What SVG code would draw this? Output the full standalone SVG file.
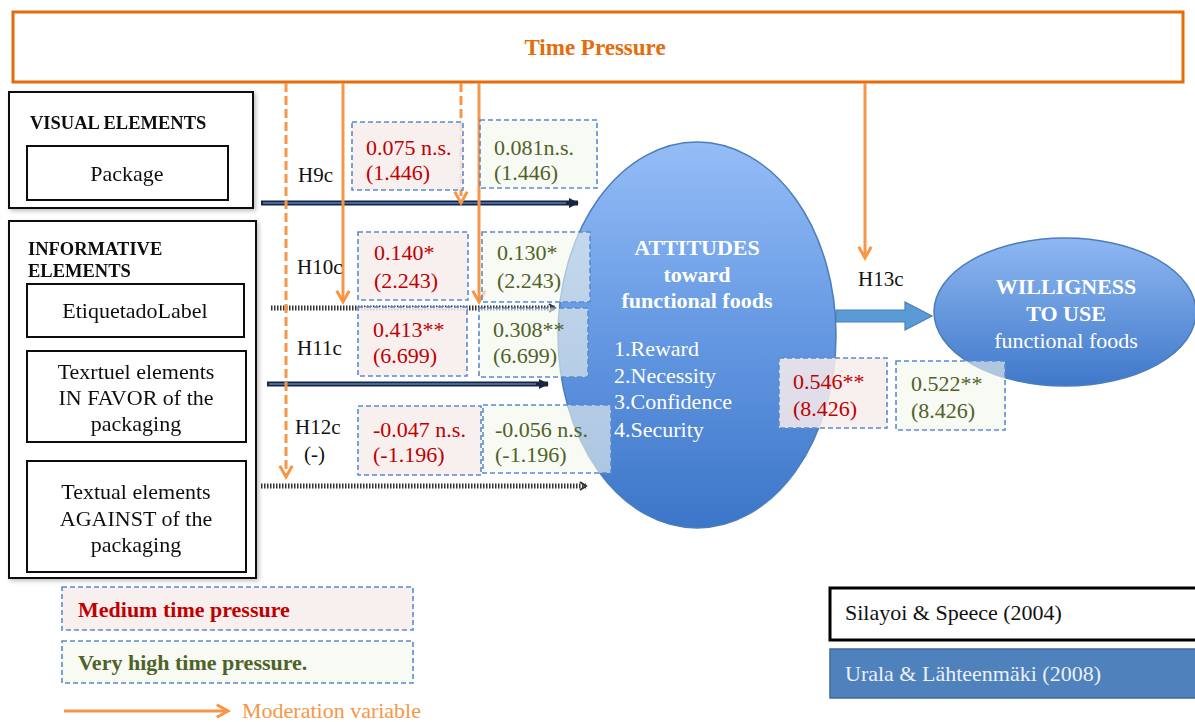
<svg xmlns="http://www.w3.org/2000/svg" width="1195" height="722" viewBox="0 0 1195 722" font-family="'Liberation Serif', 'Times New Roman', serif">
<style>
  text { font-family: "Liberation Serif", "Times New Roman", serif; }
  .box { fill: #ffffff; stroke: #111111; stroke-width: 2; }
  .lbl { font-size: 22px; fill: #111111; text-anchor: middle; }
  .head { font-size: 18.5px; font-weight: bold; fill: #111111; }
  .hyp { font-size: 21px; fill: #111111; }
  .red { fill: #F7ECEC; fill-opacity: 0.85; stroke: #5B8BD0; stroke-width: 1.6; stroke-dasharray: 5 3; }
  .grn { fill: #F4F6EC; fill-opacity: 0.6; stroke: #5B8BD0; stroke-width: 1.6; stroke-dasharray: 5 3; }
  .rt { font-size: 22px; fill: #C00000; }
  .gt { font-size: 22px; fill: #4F6228; }
  .mod { stroke: #F79646; stroke-width: 3; fill: none; }
  .modd { stroke: #F79646; stroke-width: 3; fill: none; stroke-dasharray: 9 4; }
  .solidarr { stroke: #1A2540; stroke-width: 5; fill: none; }
  .solidin { stroke: #4F81BD; stroke-width: 1.6; fill: none; }
  .dotarr { stroke: #333333; stroke-width: 5; fill: none; stroke-dasharray: 1.5 1.5; }
  .wt { fill: #ffffff; font-size: 22px; }
  .wtb { fill: #ffffff; font-size: 22px; font-weight: bold; text-anchor: middle; }
</style>
<defs>
  <marker id="orangeHead" viewBox="0 0 12 12" refX="10" refY="6" markerWidth="15" markerHeight="15" markerUnits="userSpaceOnUse" orient="auto" overflow="visible">
    <path d="M1,1 L10,6 L1,11" fill="none" stroke="#F79646" stroke-width="2.4"/>
  </marker>
  <marker id="darkHead" viewBox="0 0 10 10" refX="9" refY="5" markerWidth="12" markerHeight="10" markerUnits="userSpaceOnUse" orient="auto">
    <path d="M0,0 L10,5 L0,10 Z" fill="#1A2540"/>
  </marker>
  <marker id="dotHead" viewBox="0 0 10 10" refX="8" refY="5" markerWidth="10" markerHeight="10" markerUnits="userSpaceOnUse" orient="auto">
    <path d="M2,1 L8,5 L2,9" fill="none" stroke="#333333" stroke-width="2"/>
  </marker>
  <linearGradient id="blueGrad" x1="0" y1="0" x2="0" y2="1">
    <stop offset="0" stop-color="#95BDF7"/>
    <stop offset="0.5" stop-color="#6498E2"/>
    <stop offset="1" stop-color="#3C76C8"/>
  </linearGradient>
  <linearGradient id="blueGrad2" x1="0" y1="0" x2="0" y2="1">
    <stop offset="0" stop-color="#8FB8F2"/>
    <stop offset="1" stop-color="#3F78C9"/>
  </linearGradient>
  <filter id="shadow" x="-5%" y="-5%" width="115%" height="115%">
    <feDropShadow dx="2" dy="2" stdDeviation="2" flood-color="#000000" flood-opacity="0.25"/>
  </filter>
</defs>

<rect width="1195" height="722" fill="#ffffff"/>

<!-- Moderator -->
<g id="time-pressure">
  <rect x="13" y="12" width="1170" height="70" fill="#ffffff" stroke="#E46C0A" stroke-width="3"/>
  <text x="595" y="55" font-size="23" font-weight="bold" fill="#E46C0A" text-anchor="middle">Time Pressure</text>
</g>

<!-- Visual elements -->
<g id="visual-elements" filter="url(#shadow)">
  <rect class="box" x="9" y="92" width="244" height="116"/>
  <text class="head" x="30" y="129">VISUAL ELEMENTS</text>
  <rect class="box" x="27" y="146" width="201" height="54"/>
  <text class="lbl" x="127" y="181">Package</text>
</g>

<!-- Informative elements -->
<g id="informative-elements" filter="url(#shadow)">
  <rect class="box" x="9" y="221" width="247" height="357"/>
  <text class="head" x="28" y="255">INFORMATIVE</text>
  <text class="head" x="28" y="277">ELEMENTS</text>
  <rect class="box" x="27" y="284" width="217" height="53"/>
  <text class="lbl" x="135" y="318">EtiquetadoLabel</text>
  <rect class="box" x="27" y="351" width="219" height="91"/>
  <text class="lbl" x="136" y="379">Texrtuel elements</text>
  <text class="lbl" x="136" y="405">IN FAVOR of the</text>
  <text class="lbl" x="136" y="431">packaging</text>
  <rect class="box" x="27" y="461" width="219" height="111"/>
  <text class="lbl" x="136" y="499">Textual elements</text>
  <text class="lbl" x="136" y="526">AGAINST of the</text>
  <text class="lbl" x="136" y="552">packaging</text>
</g>

<!-- Attitudes -->
<g id="attitudes">
  <ellipse cx="697" cy="335" rx="139" ry="193" fill="url(#blueGrad)" stroke="#4A7EBB" stroke-width="1.5"/>
  <text class="wtb" x="697" y="255">ATTITUDES</text>
  <text class="wtb" x="697" y="282">toward</text>
  <text class="wtb" x="697" y="308">functional foods</text>
  <text class="wt" x="614" y="356">1.Reward</text>
  <text class="wt" x="614" y="383">2.Necessity</text>
  <text class="wt" x="614" y="409">3.Confidence</text>
  <text class="wt" x="614" y="437">4.Security</text>
</g>

<!-- Willingness -->
<g id="willingness">
  <ellipse cx="1065" cy="312" rx="131" ry="74" fill="url(#blueGrad2)" stroke="#4A7EBB" stroke-width="1.5"/>
  <text class="wtb" x="1066" y="294">WILLIGNESS</text>
  <text class="wtb" x="1066" y="321">TO USE</text>
  <text class="wt" x="1066" y="348" text-anchor="middle">functional foods</text>
</g>

<!-- Connectors -->
<g id="connectors">
  <!-- H9c -->
  <line class="solidarr" x1="261" y1="203" x2="578" y2="203" marker-end="url(#darkHead)"/>
  <line class="solidin" x1="263" y1="203" x2="566" y2="203"/>
  <!-- H10c -->
  <line class="dotarr" x1="271" y1="308" x2="555" y2="308" marker-end="url(#dotHead)"/>
  <!-- H11c -->
  <line class="solidarr" x1="267" y1="384" x2="548" y2="384" marker-end="url(#darkHead)"/>
  <line class="solidin" x1="269" y1="384" x2="536" y2="384"/>
  <!-- H12c -->
  <line class="dotarr" x1="261" y1="486" x2="586" y2="486" marker-end="url(#dotHead)"/>
  <!-- H13c block arrow -->
  <path d="M836,310 L905,310 L905,302 L932,316 L905,330 L905,322 L836,322 Z" fill="#5B9BD5" stroke="#4A7EBB" stroke-width="1.2"/>
  <!-- Moderation arrows -->
  <line class="modd" x1="286" y1="83" x2="286" y2="477" marker-end="url(#orangeHead)"/>
  <line class="mod" x1="343" y1="83" x2="343" y2="302" marker-end="url(#orangeHead)"/>
  <line class="modd" x1="461" y1="83" x2="461" y2="203" marker-end="url(#orangeHead)"/>
  <line class="mod" x1="479" y1="83" x2="479" y2="302" marker-end="url(#orangeHead)"/>
  <line class="mod" x1="865" y1="83" x2="865" y2="258" marker-end="url(#orangeHead)"/>
</g>

<!-- Hypothesis labels -->
<g id="hypotheses">
  <text class="hyp" x="298" y="182">H9c</text>
  <text class="hyp" x="297" y="274">H10c</text>
  <text class="hyp" x="297" y="355">H11c</text>
  <text class="hyp" x="295" y="434">H12c</text>
  <text class="hyp" x="304" y="461">(-)</text>
  <text class="hyp" x="858" y="286">H13c</text>
</g>

<!-- Coefficients -->
<g id="coef-h9">
  <rect class="red" x="352" y="122" width="111" height="68"/>
  <text class="rt" x="366" y="155">0.075 n.s.</text>
  <text class="rt" x="366" y="180">(1.446)</text>
  <rect class="grn" x="480" y="120" width="117" height="68"/>
  <text class="gt" x="494" y="155">0.081n.s.</text>
  <text class="gt" x="494" y="180">(1.446)</text>
</g>
<g id="coef-h10">
  <rect class="red" x="358" y="232" width="110" height="68"/>
  <text class="rt" x="374" y="260">0.140*</text>
  <text class="rt" x="374" y="288">(2.243)</text>
  <rect class="grn" x="482" y="232" width="108" height="70"/>
  <text class="gt" x="497" y="260">0.130*</text>
  <text class="gt" x="497" y="288">(2.243)</text>
</g>
<g id="coef-h11">
  <rect class="red" x="358" y="307" width="109" height="69"/>
  <text class="rt" x="373" y="337">0.413**</text>
  <text class="rt" x="373" y="363">(6.699)</text>
  <rect class="grn" x="479" y="308" width="109" height="69"/>
  <text class="gt" x="493" y="337">0.308**</text>
  <text class="gt" x="493" y="363">(6.699)</text>
</g>
<g id="coef-h12">
  <rect class="red" x="358" y="406" width="123" height="69"/>
  <text class="rt" x="373" y="437">-0.047 n.s.</text>
  <text class="rt" x="373" y="462">(-1.196)</text>
  <rect class="grn" x="483" y="405" width="128" height="68"/>
  <text class="gt" x="495" y="437">-0.056 n.s.</text>
  <text class="gt" x="495" y="462">(-1.196)</text>
</g>
<g id="coef-h13">
  <rect class="red" x="779" y="358" width="108" height="70"/>
  <text class="rt" x="793" y="389">0.546**</text>
  <text class="rt" x="793" y="416">(8.426)</text>
  <rect class="grn" x="896" y="361" width="109" height="69"/>
  <text class="gt" x="911" y="391">0.522**</text>
  <text class="gt" x="911" y="418">(8.426)</text>
</g>

<!-- Legend -->
<g id="legend-medium">
  <rect class="red" x="62" y="587" width="351" height="43"/>
  <text x="78" y="617" font-size="22" font-weight="bold" fill="#C00000">Medium time pressure</text>
</g>
<g id="legend-high">
  <rect class="grn" x="62" y="641" width="351" height="42"/>
  <text x="78" y="670" font-size="22" font-weight="bold" fill="#4F6228">Very high time pressure.</text>
</g>
<g id="legend-moderation">
  <line class="mod" x1="64" y1="711" x2="228" y2="711" marker-end="url(#orangeHead)"/>
  <text x="242" y="718" font-size="22" fill="#F79646">Moderation variable</text>
</g>

<!-- Sources -->
<g id="source-silayoi">
  <rect x="830" y="588" width="368" height="52" fill="#ffffff" stroke="#000000" stroke-width="3"/>
  <text x="845" y="620" font-size="22" fill="#111111">Silayoi &amp; Speece (2004)</text>
</g>
<g id="source-urala">
  <rect x="830" y="649" width="368" height="49" fill="#4F81BD" stroke="#3D6A9E" stroke-width="1.5"/>
  <text x="845" y="681" font-size="22" fill="#EAF0F8">Urala &amp; Lähteenmäki (2008)</text>
</g>
</svg>
